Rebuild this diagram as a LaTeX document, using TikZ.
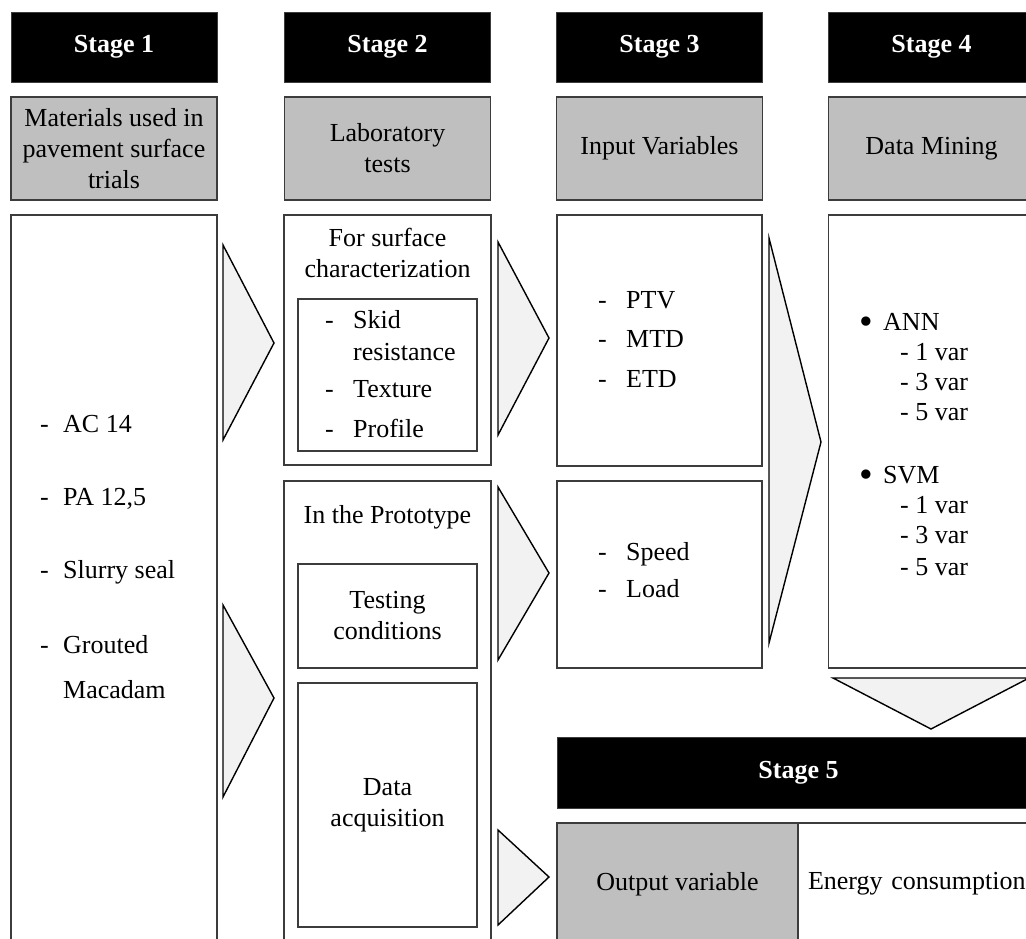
\documentclass[tikz,border=0pt]{standalone}
\usepackage{fontspec}
\setmainfont{Liberation Serif}
\definecolor{TitleGray}{RGB}{191,191,191}
\definecolor{ChevronFill}{RGB}{242,242,242}
\definecolor{FrameGray}{RGB}{60,60,60}
\newcommand{\bodysize}{\fontsize{26}{31}\selectfont}
\newcommand{\itm}[2][28pt]{\makebox[#1][l]{-}#2}
\newcommand{\bigdot}{\makebox[24pt][l]{\raisebox{-4pt}{\scalebox{1.5}{\textbullet}}}}

\begin{document}
\begin{tikzpicture}[x=1pt, y=-1pt, every node/.style={font=\bodysize, inner sep=0pt},
  stagehead/.style={draw=FrameGray, fill=black, text=white, font=\bodysize\bfseries, minimum width=206pt, minimum height=70pt},
  titlebox/.style={draw=FrameGray, fill=TitleGray, line width=1.2pt, minimum width=206pt, minimum height=103pt, align=center},
  panel/.style={draw=FrameGray, fill=white, line width=1.2pt, align=center},
  chevron/.style={draw=black, fill=ChevronFill, line width=1.4pt, line join=miter}]
  \useasboundingbox (0,0) rectangle (1026,938);
  \clip (0,0) rectangle (1026,938);

  \foreach \n/\x in {1/114, 2/387.5, 3/659.5, 4/931.5}
    \node[stagehead] (stage\n) at (\x,47) {Stage \n};
  \node[titlebox] (materials) at (114,148.5) {Materials used in\\pavement surface\\trials};
  \node[titlebox] (labtests) at (387.5,148.5) {Laboratory\\tests};
  \node[titlebox] (inputs) at (659.5,148.5) {Input Variables};
  \node[titlebox] (mining) at (931.5,148.5) {Data Mining};

  \node[panel, minimum width=206pt, minimum height=745pt] (matpanel) at (114,587.5) {};
  \node[anchor=base west] (matlist) at (40,432) {\begin{tabular}[t]{@{}l@{}}
    \itm[23pt]{AC 14}\\[42pt] \itm[23pt]{PA 12,5}\\[42pt] \itm[23pt]{Slurry seal}\\[44pt]
    \itm[23pt]{Grouted}\\[14pt] \hspace{23pt}Macadam\end{tabular}};

  \node[panel, minimum width=207pt, minimum height=250pt] (surface) at (387.5,340) {};
  \node (surfhead) at (387.5,253) [align=center] {For surface\\characterization};
  \node[panel, minimum width=179pt, minimum height=152pt] (surflist) at (387.5,375) {};
  \node[anchor=base west] (surftext) at (325,328) {\begin{tabular}[t]{@{}l@{}}
    \itm{Skid}\\[1pt] \hspace{28pt}resistance\\[6pt] \itm{Texture}\\[9pt] \itm{Profile}\end{tabular}};
  \node[panel, minimum width=207pt, minimum height=479pt] (proto) at (387.5,720.5) {};
  \node[anchor=base] (protohead) at (387.5,523) {In the Prototype};
  \node[panel, minimum width=179pt, minimum height=104pt] (conditions) at (387.5,616) {Testing\\conditions};
  \node[panel, minimum width=179pt, minimum height=244pt] (acquisition) at (387.5,805) {Data\\acquisition};

  \node[panel, minimum width=205pt, minimum height=251pt] (texture) at (659.5,340.5) {};
  \node[anchor=base west] (texlist) at (598,308) {\begin{tabular}[t]{@{}l@{}}
    \itm{PTV}\\[8pt] \itm{MTD}\\[9pt] \itm{ETD}\end{tabular}};
  \node[panel, minimum width=205pt, minimum height=187pt] (operation) at (659.5,574.5) {};
  \node[anchor=base west] (oplist) at (598,560) {\begin{tabular}[t]{@{}l@{}}
    \itm{Speed}\\[6pt] \itm{Load}\end{tabular}};

  \node[panel, minimum width=206pt, minimum height=453pt] (models) at (931.5,441.5) {};
  \node[anchor=base west] (modlist) at (859,330) {\begin{tabular}[t]{@{}l@{}}
    \bigdot ANN\\[-1pt] \hspace{41pt}- 1 var\\[-1pt] \hspace{41pt}- 3 var\\[-1pt] \hspace{41pt}- 5 var\\[32pt]
    \bigdot SVM\\[-1pt] \hspace{41pt}- 1 var\\[-1pt] \hspace{41pt}- 3 var\\[1pt] \hspace{41pt}- 5 var\end{tabular}};

  \node[stagehead, minimum width=483pt, minimum height=71pt] (stage5) at (798.5,773) {Stage 5};
  \node[panel, fill=TitleGray, minimum width=241pt, minimum height=122pt] (outvar) at (677.5,884) {Output variable};
  \node[panel, minimum width=242pt, minimum height=122pt, text width=222pt, inner xsep=10pt, align=left] (energy) at (919,884) {Energy consumption};

  \draw[chevron] (223,245) -- (274,343) -- (223,440) -- cycle;
  \draw[chevron] (223,605) -- (274,698) -- (223,797) -- cycle;
  \draw[chevron] (498,242) -- (549,338) -- (498,435) -- cycle;
  \draw[chevron] (498,487) -- (549,573) -- (498,660) -- cycle;
  \draw[chevron] (498,830) -- (549,877) -- (498,925) -- cycle;
  \draw[chevron] (769,238) -- (821,442) -- (769,643) -- cycle;
  \draw[chevron] (833,678) -- (1029,678) -- (931,729) -- cycle;
\end{tikzpicture}
\end{document}
